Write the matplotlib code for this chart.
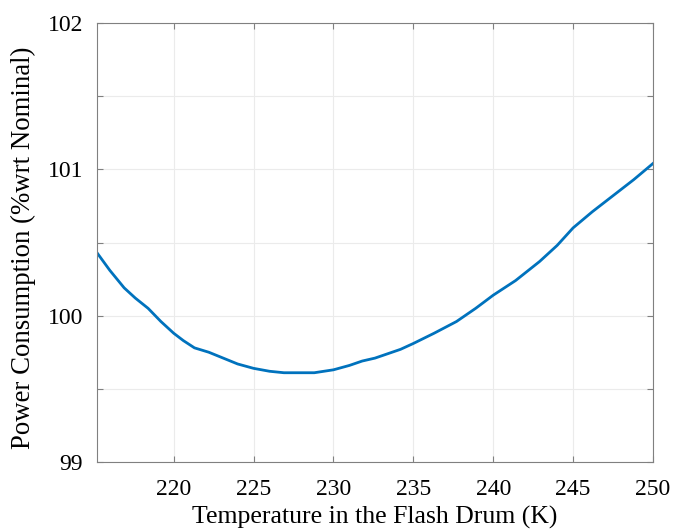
import matplotlib.pyplot as plt
import numpy as np

# temperature (K) and power consumption (% wrt nominal)
temp = [215.2, 216.0, 216.9, 217.6, 218.4, 219.2, 220.0, 220.6, 221.3, 222.2,
        223.1, 224.0, 225.0, 226.0, 226.9, 227.9, 228.8, 230.0, 231.0, 231.8,
        232.6, 233.4, 234.2, 235.0, 236.3, 237.7, 238.9, 240.0, 241.4, 242.9,
        244.0, 245.0, 246.2, 247.5, 248.8, 250.0]
power = [100.43, 100.31, 100.19, 100.12, 100.05, 99.96, 99.88, 99.83, 99.78, 99.75,
         99.71, 99.67, 99.64, 99.62, 99.61, 99.61, 99.61, 99.63, 99.66, 99.69,
         99.71, 99.74, 99.77, 99.81, 99.88, 99.96, 100.05, 100.14, 100.24, 100.37,
         100.48, 100.60, 100.71, 100.82, 100.93, 101.04]

x_ticks = [220, 225, 230, 235, 240, 245, 250]
y_ticks = [99, 99.5, 100, 100.5, 101, 101.5, 102]
y_labels = ['99', '', '100', '', '101', '', '102']

plt.rcParams['font.family'] = ['Liberation Serif', 'DejaVu Serif']

fig = plt.figure(figsize=(6.77, 5.29), dpi=100)
ax = fig.add_axes([97 / 677, 1 - 462 / 529, (653 - 97) / 677, (462 - 23) / 529])

ax.plot(temp, power, color='#0072BD', linewidth=2)

ax.set_xlim(215.2, 250)
ax.set_ylim(99, 102)
ax.set_xticks(x_ticks)
ax.set_yticks(y_ticks)
ax.set_yticklabels(y_labels)
ax.tick_params(direction='in', top=True, right=True, labelsize=17,
               color='#808080', length=4)
ax.tick_params(axis='x', pad=12.5)
ax.tick_params(axis='y', pad=10)
for s in ax.spines.values():
    s.set_color('#808080')
ax.grid(True, color='#ebebeb', linewidth=0.8)

ax.set_xlabel('Temperature in the Flash Drum (K)', fontsize=18.5, labelpad=4)
ax.set_ylabel('Power Consumption (%wrt Nominal)', fontsize=19.3, labelpad=8)
ax.yaxis.label.set_y(0.488)

fig.savefig('out.png', dpi=100)
